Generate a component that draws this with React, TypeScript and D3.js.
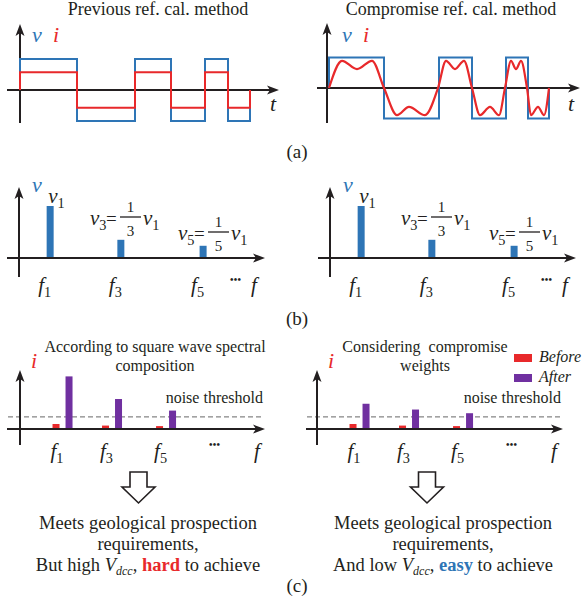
import React from "react";
import * as d3 from "d3";

// ---- (a) time-domain waveforms ----
// switching instants of the reference square wave (time units)
const prevEdges = [0, 5.7, 11.5, 15.1, 18.5, 20.8, 23];
const compEdges = [0, 5.5, 11, 14.3, 17.7, 19.9, 22];
const prevCurrentLevel = 0.57; // current amplitude relative to voltage
// compromise-method current [t, i]
const compCurrent: [number, number][] = [
  [0, 0], [1.3, 0.89], [2.8, 0.62], [4.3, 0.89], [5.5, 0],
  [6.8, -0.89], [8.0, -0.62], [9.6, -0.89], [10.9, 0],
  [11.7, 0.89], [12.6, 0.62], [13.5, 0.89], [14.3, 0],
  [15.1, -0.89], [16.1, -0.62], [17.0, -0.89], [17.6, 0],
  [18.2, 0.89], [18.7, 0.62], [19.2, 0.89], [19.8, 0],
  [20.2, -0.89], [20.9, -0.62], [21.5, -0.89], [22, 0],
];

// ---- (b) voltage spectrum ----
const harmonics = ["1", "3", "5"];
const harmonicPos = [0.89, 2.91, 5.26];
const voltageAmp = [1, 0.35, 0.235];

// ---- (c) current spectrum ----
const pairPos = [1.22, 2.64, 4.19];
const beforeAmp = [0.095, 0.065, 0.055];
const afterSquare = [1, 0.57, 0.35];
const afterCompromise = [0.48, 0.37, 0.3];
const noiseThreshold = 0.23;

const FONT = "Liberation Serif, DejaVu Serif, serif";
const INK = "#231f20";
const BLUE = "#2e75b6";
const RED = "#e8292b";
const PURPLE = "#7030a0";

function Arrow({ x1, y1, x2, y2 }: { x1: number; y1: number; x2: number; y2: number }) {
  const a = Math.atan2(y2 - y1, x2 - x1);
  const L = 12, w = 4.5;
  const c = Math.cos(a), s = Math.sin(a);
  const bx = x2 - L * c, by = y2 - L * s;
  const nx = x2 - (L - 3) * c, ny = y2 - (L - 3) * s;
  const pts = [
    [x2, y2],
    [bx - s * w, by + c * w],
    [nx, ny],
    [bx + s * w, by - c * w],
  ];
  return (
    <g>
      <line x1={x1} y1={y1} x2={nx} y2={ny} stroke={INK} strokeWidth={2} />
      <polygon points={pts.map((p) => p.join(",")).join(" ")} fill={INK} />
    </g>
  );
}

function squarePoints(edges: number[], amp: number): [number, number][] {
  const pts: [number, number][] = [[edges[0], 0]];
  for (let i = 0; i < edges.length - 1; i++) {
    const lv = i % 2 === 0 ? amp : -amp;
    pts.push([edges[i], lv], [edges[i + 1], lv]);
  }
  pts.push([edges[edges.length - 1], 0]);
  return pts;
}

function Sym({ x, y, base, sub, color = INK, size = 21 }: any) {
  return (
    <text x={x} y={y} style={{ fontFamily: FONT }} fontSize={size} fill={color}>
      <tspan fontStyle="italic">{base}</tspan>
      {sub && (
        <tspan fontSize={size * 0.68} dy={size * 0.22}>
          {sub}
        </tspan>
      )}
    </text>
  );
}

function Txt({ children, style, ...rest }: any) {
  return (
    <text style={{ fontFamily: FONT, ...style }} fill={INK} {...rest}>
      {children}
    </text>
  );
}

function WavePanel(props: any) {
  const { axisX, axisY, yTop, yBot, xL, xR, t0, t1, edges, tMax, amp, title, titleX, vX, iX, tX, curve } = props;
  const x = d3.scaleLinear().domain([0, tMax]).range([t0, t1]);
  const y = d3.scaleLinear().domain([-1, 1]).range([axisY + amp, axisY - amp]);
  const sq = d3.line<[number, number]>().x((d) => x(d[0])).y((d) => y(d[1]));
  const smooth = d3
    .line<[number, number]>()
    .x((d) => x(d[0]))
    .y((d) => y(d[1]))
    .curve(d3.curveMonotoneX);
  return (
    <g>
      <Txt x={titleX} y={15} textAnchor="middle" fontSize={18}>
        {title}
      </Txt>
      <Arrow x1={axisX} y1={yBot} x2={axisX} y2={yTop} />
      <Arrow x1={xL} y1={axisY} x2={xR} y2={axisY} />
      <path d={sq(squarePoints(edges, 1)) || ""} fill="none" stroke={BLUE} strokeWidth={2} />
      {curve ? (
        <path d={smooth(curve) || ""} fill="none" stroke={RED} strokeWidth={2.2} />
      ) : (
        <path d={sq(squarePoints(edges, prevCurrentLevel)) || ""} fill="none" stroke={RED} strokeWidth={2} />
      )}
      <Sym x={vX} y={42} base="v" color={BLUE} size={22} />
      <Sym x={iX} y={42} base="i" color={RED} size={22} />
      <Sym x={tX} y={111} base="t" size={22} />
    </g>
  );
}

function Frac({ x, bar, sub, den }: { x: number; bar: number; sub: string; den: string }) {
  const base = bar + 8;
  return (
    <g>
      <Sym x={x} y={base} base="v" sub={sub} size={21} />
      <Txt x={x + 16} y={base} fontSize={19}>=</Txt>
      <line x1={x + 30} x2={x + 51} y1={bar} y2={bar} stroke={INK} strokeWidth={1.3} />
      <Txt x={x + 40.5} y={bar - 5} fontSize={15} textAnchor="middle">1</Txt>
      <Txt x={x + 40.5} y={bar + 19} fontSize={15} textAnchor="middle">{den}</Txt>
      <Sym x={x + 53} y={base} base="v" sub="1" size={21} />
    </g>
  );
}

function SpectrumV({ axisX, xL, xR }: { axisX: number; xL: number; xR: number }) {
  const x = d3.scaleLinear().domain([0, 7]).range([axisX, axisX + 245]);
  const y = d3.scaleLinear().domain([0, 1]).range([258, 206]);
  const bw = 7;
  return (
    <g>
      {harmonicPos.map((p, i) => (
        <rect key={i} x={x(p) - bw / 2} y={y(voltageAmp[i])} width={bw} height={y(0) - y(voltageAmp[i])} fill={BLUE} />
      ))}
      <Arrow x1={axisX} y1={277} x2={axisX} y2={187} />
      <Arrow x1={xL} y1={258} x2={xR} y2={258} />
      <Sym x={axisX + 13} y={192} base="v" color={BLUE} size={22} />
      <Sym x={x(harmonicPos[0]) - 2} y={203} base="v" sub="1" size={21} />
      <Frac x={axisX + 71} bar={217} sub="3" den="3" />
      <Frac x={axisX + 159} bar={232} sub="5" den="5" />
      {harmonics.map((h, i) => (
        <Sym key={h} x={x(harmonicPos[i]) - 12} y={292} base="f" sub={h} size={21} />
      ))}
      <Txt x={axisX + 211} y={283} fontSize={10} fontWeight="bold" letterSpacing={0.3}>
        •••
      </Txt>
      <Sym x={axisX + 232} y={292} base="f" size={21} />
    </g>
  );
}

function SpectrumI(props: any) {
  const { axisX, xL, xR, after, titleLines, titleX } = props;
  const x = d3.scaleLinear().domain([0, 7]).range([axisX, axisX + 244]);
  const y = d3.scaleLinear().domain([0, 1]).range([429, 376.4]);
  const bw = 7, off = 6.5;
  return (
    <g>
      {titleLines.map((t: string, k: number) => (
        <Txt key={k} x={titleX} y={352 + k * 19} textAnchor="middle" fontSize={16} style={{ whiteSpace: "pre" }}>
          {t}
        </Txt>
      ))}
      <line x1={xL + 1} x2={xR - 2} y1={y(noiseThreshold)} y2={y(noiseThreshold)} stroke="#666" strokeWidth={1} strokeDasharray="5,3" />
      {pairPos.map((p, i) => (
        <g key={i}>
          <rect x={x(p) - off - bw / 2} y={y(beforeAmp[i])} width={bw} height={y(0) - y(beforeAmp[i])} fill={RED} />
          <rect x={x(p) + off - bw / 2} y={y(after[i])} width={bw} height={y(0) - y(after[i])} fill={PURPLE} />
        </g>
      ))}
      <Arrow x1={axisX} y1={445} x2={axisX} y2={370} />
      <Arrow x1={xL} y1={429} x2={xR} y2={429} />
      <Txt x={xR - 2} y={403} textAnchor="end" fontSize={16}>
        noise threshold
      </Txt>
      <Sym x={axisX + 11} y={368} base="i" color={RED} size={22} />
      {harmonics.map((h, i) => (
        <Sym key={h} x={x(pairPos[i]) - 12} y={458} base="f" sub={h} size={21} />
      ))}
      <Txt x={axisX + 189} y={448} fontSize={10} fontWeight="bold" letterSpacing={0.3}>
        •••
      </Txt>
      <Sym x={axisX + 234} y={458} base="f" size={21} />
    </g>
  );
}

function DownArrow({ cx }: { cx: number }) {
  const d = `M${cx - 8.5},472 H${cx + 8.5} V487 H${cx + 16.5} L${cx},503 L${cx - 16.5},487 H${cx - 8.5} Z`;
  return <path d={d} fill="#fff" stroke={INK} strokeWidth={1.6} strokeLinejoin="miter" />;
}

function Conclusion({ cx, lead, word, color }: { cx: number; lead: string; word: string; color: string }) {
  const fs = 18.5;
  return (
    <g>
      <Txt x={cx} y={529} fontSize={fs} textAnchor="middle">Meets geological prospection</Txt>
      <Txt x={cx} y={550} fontSize={fs} textAnchor="middle">requirements,</Txt>
      <Txt x={cx} y={571} fontSize={fs} textAnchor="middle">
        {lead} <tspan fontStyle="italic">V</tspan>
        <tspan fontSize={12} fontStyle="italic" dy={4}>dcc</tspan>
        <tspan dy={-4}>, </tspan>
        <tspan fontWeight="bold" fill={color}>{word}</tspan> to achieve
      </Txt>
    </g>
  );
}

export default function App() {
  return (
    <svg width={584} height={605} style={{ position: "absolute", left: 0, top: 0, background: "#fff" }}>
      <rect width={584} height={605} fill="#fff" />
      <WavePanel
        axisX={20} axisY={90} yTop={24} yBot={123} xL={7} xR={279}
        t0={20} t1={250} tMax={23} edges={prevEdges} amp={31}
        title="Previous ref. cal. method" titleX={158} vX={32} iX={53} tX={270}
      />
      <WavePanel
        axisX={327} axisY={88} yTop={23} yBot={123} xL={317} xR={580}
        t0={329} t1={549} tMax={22} edges={compEdges} amp={30.5}
        title="Compromise ref. cal. method" titleX={451} vX={342} iX={363} tX={568} curve={compCurrent}
      />
      <Txt x={297} y={158} textAnchor="middle" fontSize={19}>(a)</Txt>

      <SpectrumV axisX={19} xL={7} xR={265} />
      <SpectrumV axisX={330} xL={318} xR={576} />
      <Txt x={297} y={325} textAnchor="middle" fontSize={19}>(b)</Txt>

      <SpectrumI axisX={20} xL={7} xR={265} after={afterSquare}
        titleLines={["According to square wave spectral", "composition"]} titleX={155} />
      <SpectrumI axisX={317} xL={306} xR={563} after={afterCompromise}
        titleLines={["Considering  compromise", "weights"]} titleX={425} />
      <rect x={514} y={354} width={18} height={8} fill={RED} />
      <Txt x={539} y={362} fontSize={16} fontStyle="italic">Before</Txt>
      <rect x={514} y={374} width={18} height={8} fill={PURPLE} />
      <Txt x={539} y={382} fontSize={16} fontStyle="italic">After</Txt>

      <DownArrow cx={138.5} />
      <DownArrow cx={427} />
      <Conclusion cx={148} lead="But high" word="hard" color={RED} />
      <Conclusion cx={443} lead="And low" word="easy" color={BLUE} />
      <Txt x={297} y={592} textAnchor="middle" fontSize={19}>(c)</Txt>
    </svg>
  );
}
